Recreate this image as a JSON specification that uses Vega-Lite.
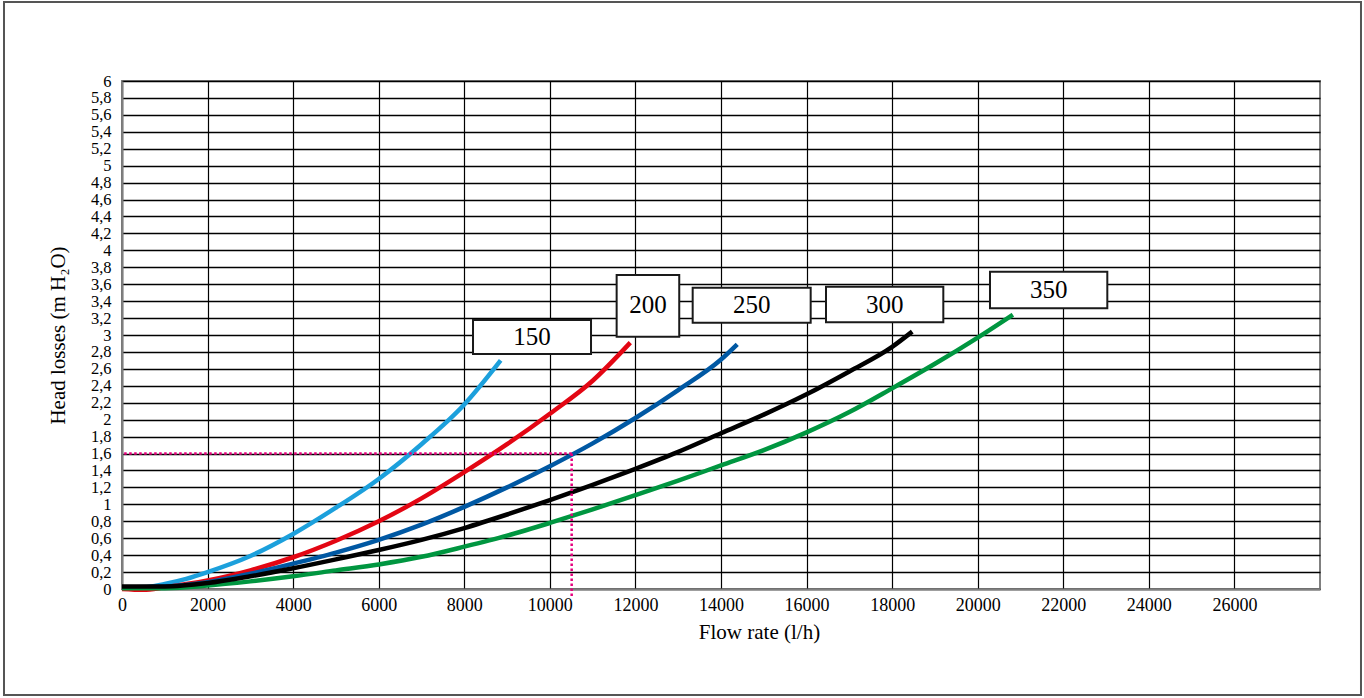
{
  "$schema": "https://vega.github.io/schema/vega-lite/v6.json",
  "width": 1198,
  "height": 508,
  "autosize": {"type": "none"},
  "padding": {"left": 122, "top": 81, "right": 44, "bottom": 109},
  "background": "white",
  "config": {
    "view": {"stroke": "#808080", "strokeWidth": 2},
    "font": "Liberation Serif"
  },
  "datasets": {
    "curves": [
      {"size": "150", "flow": 0, "loss": 0.02},
      {"size": "150", "flow": 500, "loss": 0.02},
      {"size": "150", "flow": 1000, "loss": 0.06},
      {"size": "150", "flow": 1500, "loss": 0.12},
      {"size": "150", "flow": 2000, "loss": 0.2},
      {"size": "150", "flow": 3000, "loss": 0.39},
      {"size": "150", "flow": 4000, "loss": 0.65},
      {"size": "150", "flow": 5000, "loss": 0.96},
      {"size": "150", "flow": 6000, "loss": 1.3},
      {"size": "150", "flow": 7000, "loss": 1.71},
      {"size": "150", "flow": 8000, "loss": 2.18},
      {"size": "150", "flow": 8850, "loss": 2.7},
      {"size": "200", "flow": 0, "loss": 0.0},
      {"size": "200", "flow": 500, "loss": -0.01},
      {"size": "200", "flow": 1000, "loss": 0.02},
      {"size": "200", "flow": 2000, "loss": 0.1},
      {"size": "200", "flow": 3000, "loss": 0.22},
      {"size": "200", "flow": 4000, "loss": 0.375},
      {"size": "200", "flow": 5000, "loss": 0.57},
      {"size": "200", "flow": 6000, "loss": 0.8},
      {"size": "200", "flow": 7000, "loss": 1.07},
      {"size": "200", "flow": 8000, "loss": 1.38},
      {"size": "200", "flow": 9000, "loss": 1.71},
      {"size": "200", "flow": 10000, "loss": 2.07},
      {"size": "200", "flow": 11000, "loss": 2.46},
      {"size": "200", "flow": 11880, "loss": 2.91},
      {"size": "250", "flow": 0, "loss": 0.02},
      {"size": "250", "flow": 1000, "loss": 0.03},
      {"size": "250", "flow": 2000, "loss": 0.08},
      {"size": "250", "flow": 3000, "loss": 0.18},
      {"size": "250", "flow": 4000, "loss": 0.3},
      {"size": "250", "flow": 5000, "loss": 0.43},
      {"size": "250", "flow": 6000, "loss": 0.58},
      {"size": "250", "flow": 7000, "loss": 0.76},
      {"size": "250", "flow": 8000, "loss": 0.97},
      {"size": "250", "flow": 9000, "loss": 1.2},
      {"size": "250", "flow": 10000, "loss": 1.45},
      {"size": "250", "flow": 11000, "loss": 1.72},
      {"size": "250", "flow": 12000, "loss": 2.02},
      {"size": "250", "flow": 13000, "loss": 2.35},
      {"size": "250", "flow": 14000, "loss": 2.71},
      {"size": "250", "flow": 14380, "loss": 2.89},
      {"size": "350", "flow": 0, "loss": 0.01},
      {"size": "350", "flow": 1000, "loss": 0.01},
      {"size": "350", "flow": 2000, "loss": 0.04},
      {"size": "350", "flow": 3000, "loss": 0.09},
      {"size": "350", "flow": 4000, "loss": 0.15},
      {"size": "350", "flow": 5000, "loss": 0.22},
      {"size": "350", "flow": 6000, "loss": 0.29},
      {"size": "350", "flow": 7000, "loss": 0.38},
      {"size": "350", "flow": 8000, "loss": 0.5},
      {"size": "350", "flow": 9000, "loss": 0.63},
      {"size": "350", "flow": 10000, "loss": 0.78},
      {"size": "350", "flow": 11000, "loss": 0.94},
      {"size": "350", "flow": 12000, "loss": 1.11},
      {"size": "350", "flow": 13000, "loss": 1.28},
      {"size": "350", "flow": 14000, "loss": 1.46},
      {"size": "350", "flow": 15000, "loss": 1.64},
      {"size": "350", "flow": 16000, "loss": 1.85},
      {"size": "350", "flow": 17000, "loss": 2.09},
      {"size": "350", "flow": 18000, "loss": 2.37},
      {"size": "350", "flow": 19000, "loss": 2.66},
      {"size": "350", "flow": 20000, "loss": 2.97},
      {"size": "350", "flow": 20820, "loss": 3.24},
      {"size": "300", "flow": 0, "loss": 0.03},
      {"size": "300", "flow": 1000, "loss": 0.03},
      {"size": "300", "flow": 2000, "loss": 0.07},
      {"size": "300", "flow": 3000, "loss": 0.15},
      {"size": "300", "flow": 4000, "loss": 0.245},
      {"size": "300", "flow": 5000, "loss": 0.35},
      {"size": "300", "flow": 6000, "loss": 0.46},
      {"size": "300", "flow": 7000, "loss": 0.58},
      {"size": "300", "flow": 8000, "loss": 0.72},
      {"size": "300", "flow": 9000, "loss": 0.88},
      {"size": "300", "flow": 10000, "loss": 1.05},
      {"size": "300", "flow": 11000, "loss": 1.23},
      {"size": "300", "flow": 12000, "loss": 1.42},
      {"size": "300", "flow": 13000, "loss": 1.62},
      {"size": "300", "flow": 14000, "loss": 1.84},
      {"size": "300", "flow": 15000, "loss": 2.06},
      {"size": "300", "flow": 16000, "loss": 2.3},
      {"size": "300", "flow": 17000, "loss": 2.57},
      {"size": "300", "flow": 18000, "loss": 2.86},
      {"size": "300", "flow": 18470, "loss": 3.04}
    ],
    "boxes": [
      {"label": "150", "x0": 8204, "x1": 10962, "y0": 2.776, "y1": 3.177, "tx": 9583, "ty": 2.976},
      {"label": "200", "x0": 11561, "x1": 13024, "y0": 2.98, "y1": 3.709, "tx": 12294, "ty": 3.354},
      {"label": "250", "x0": 13338, "x1": 16096, "y0": 3.145, "y1": 3.559, "tx": 14717, "ty": 3.352},
      {"label": "300", "x0": 16454, "x1": 19196, "y0": 3.15, "y1": 3.571, "tx": 17826, "ty": 3.36},
      {"label": "350", "x0": 20287, "x1": 23029, "y0": 3.315, "y1": 3.748, "tx": 21659, "ty": 3.531}
    ],
    "example": [
      {"flow": 10510, "loss": 1.6}
    ]
  },
  "layer": [
    {
      "data": {"name": "curves"},
      "mark": {"type": "line", "strokeWidth": 4.5, "interpolate": "monotone", "strokeCap": "butt"},
      "encoding": {
        "x": {
          "field": "flow", "type": "quantitative",
          "scale": {"domain": [0, 28000], "nice": false, "zero": false},
          "axis": {
            "values": [0, 2000, 4000, 6000, 8000, 10000, 12000, 14000, 16000, 18000, 20000, 22000, 24000, 26000],
            "tickCount": 40,
            "format": "d",
            "grid": true, "gridColor": "#000000", "gridWidth": 1.2, "gridOpacity": 1,
            "ticks": false,
            "domainColor": "#808080", "domainWidth": 2,
            "labelFont": "Liberation Serif", "labelFontSize": 18, "labelColor": "#000000", "labelPadding": 7,
            "labelFlush": false, "labelOverlap": false,
            "title": "Flow rate (l/h)",
            "titleFont": "Liberation Serif", "titleFontSize": 21, "titleFontWeight": "normal", "titleColor": "#000000",
            "titlePadding": 7, "titleX": 637
          }
        },
        "y": {
          "field": "loss", "type": "quantitative",
          "scale": {"domain": [0, 6], "nice": false, "zero": false},
          "axis": {
            "values": [0, 0.2, 0.4, 0.6, 0.8, 1, 1.2, 1.4, 1.6, 1.8, 2, 2.2, 2.4, 2.6, 2.8, 3, 3.2, 3.4, 3.6, 3.8, 4, 4.2, 4.4, 4.6, 4.8, 5, 5.2, 5.4, 5.6, 5.8, 6],
            "tickCount": 100,
            "labelExpr": "replace(format(datum.value, '.1~f'), '.', ',')",
            "grid": true, "gridColor": "#000000", "gridWidth": 1.6, "gridOpacity": 1,
            "ticks": false,
            "domainColor": "#808080", "domainWidth": 2,
            "labelFont": "Liberation Serif", "labelFontSize": 16.5, "labelColor": "#000000", "labelPadding": 11,
            "labelFlush": false, "labelOverlap": false,
            "title": "Head losses (m H₂O)",
            "titleFont": "Liberation Serif", "titleFontSize": 21, "titleFontWeight": "normal", "titleColor": "#000000",
            "titlePadding": 22
          }
        },
        "color": {
          "field": "size", "type": "nominal",
          "scale": {"domain": ["150", "200", "250", "300", "350"], "range": ["#1ca0dc", "#e30613", "#0058a3", "#000000", "#009640"]},
          "legend": null
        },
        "order": {"field": "flow", "type": "quantitative"}
      }
    },
    {
      "data": {"name": "example"},
      "mark": {"type": "rule", "color": "#e5007d", "strokeWidth": 2.5, "strokeDash": [2.5, 2.5]},
      "encoding": {
        "x": {"field": "flow", "type": "quantitative"},
        "x2": {"datum": 0},
        "y": {"field": "loss", "type": "quantitative"}
      }
    },
    {
      "data": {"name": "example"},
      "mark": {"type": "rule", "color": "#e5007d", "strokeWidth": 2.5, "strokeDash": [2.5, 2.5]},
      "encoding": {
        "x": {"field": "flow", "type": "quantitative"},
        "y": {"field": "loss", "type": "quantitative"},
        "y2": {"datum": -0.1}
      }
    },
    {
      "data": {"name": "boxes"},
      "mark": {"type": "rect", "fill": "#ffffff", "stroke": "#1a1a1a", "strokeWidth": 2},
      "encoding": {
        "x": {"field": "x0", "type": "quantitative"},
        "x2": {"field": "x1"},
        "y": {"field": "y0", "type": "quantitative"},
        "y2": {"field": "y1"}
      }
    },
    {
      "data": {"name": "boxes"},
      "mark": {"type": "text", "font": "Liberation Serif", "fontSize": 25, "color": "#000000", "align": "center", "baseline": "middle"},
      "encoding": {
        "x": {"field": "tx", "type": "quantitative"},
        "y": {"field": "ty", "type": "quantitative"},
        "text": {"field": "label"}
      }
    },
    {
      "data": {"values": [{}]},
      "mark": {"type": "rect", "fill": "transparent", "stroke": "#555555", "strokeWidth": 2},
      "encoding": {
        "x": {"datum": -2758, "type": "quantitative"},
        "x2": {"datum": 28958},
        "y": {"datum": 6.933, "type": "quantitative"},
        "y2": {"datum": -1.252}
      }
    }
  ]
}
